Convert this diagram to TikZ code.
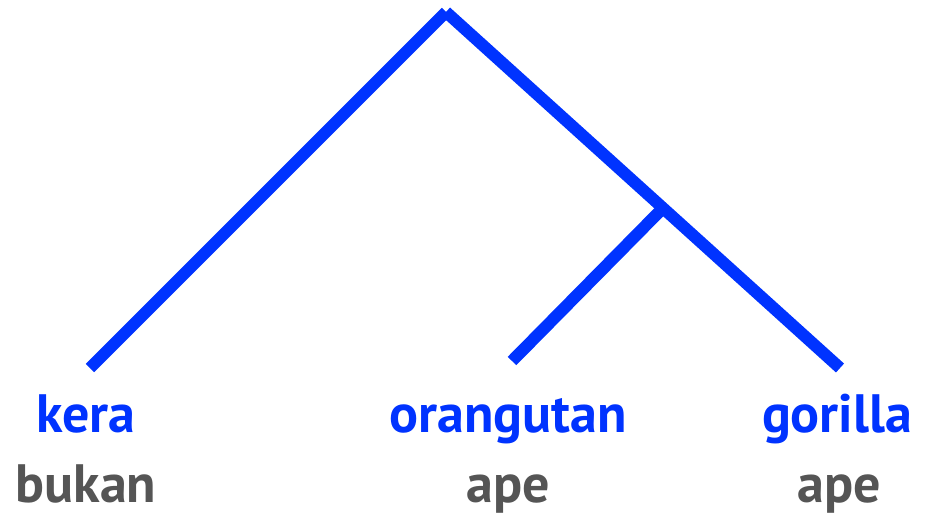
\documentclass[tikz,border=0pt]{standalone}
\usepackage{fontspec}
\setmainfont{PT Sans}
\definecolor{treeblue}{HTML}{0033FF}
\definecolor{labelgray}{HTML}{555555}
\begin{document}
\begin{tikzpicture}[x=1pt,y=-1pt,
  branch/.style={draw=treeblue,line width=12pt,line cap=butt},
  leafname/.style={text=treeblue,font=\fontsize{54}{54}\selectfont\bfseries,anchor=base,inner sep=0pt},
  leafgloss/.style={text=labelgray,font=\fontsize{54}{54}\selectfont\bfseries,anchor=base,inner sep=0pt}]
\useasboundingbox (0,0) rectangle (933,516);
\coordinate (root) at (446,12);
\coordinate (kleaf) at (90,368);
\coordinate (gleaf) at (840,368);
\coordinate (oleaf) at (512,361);
\coordinate (inner) at (663,208);
\draw[branch] (root) -- (kleaf);
\draw[branch] (root) -- (gleaf);
\draw[branch] (inner) -- (oleaf);
\node[leafname] (kera) at (86,432) {kera};
\node[leafgloss] (bukan) at (86,502) {bukan};
\node[leafname] (orangutan) at (508,432) {orangutan};
\node[leafgloss] (ape1) at (508,502) {ape};
\node[leafname] (gorilla) at (837,432) {gorilla};
\node[leafgloss] (ape2) at (839,502) {ape};
\end{tikzpicture}
\end{document}
